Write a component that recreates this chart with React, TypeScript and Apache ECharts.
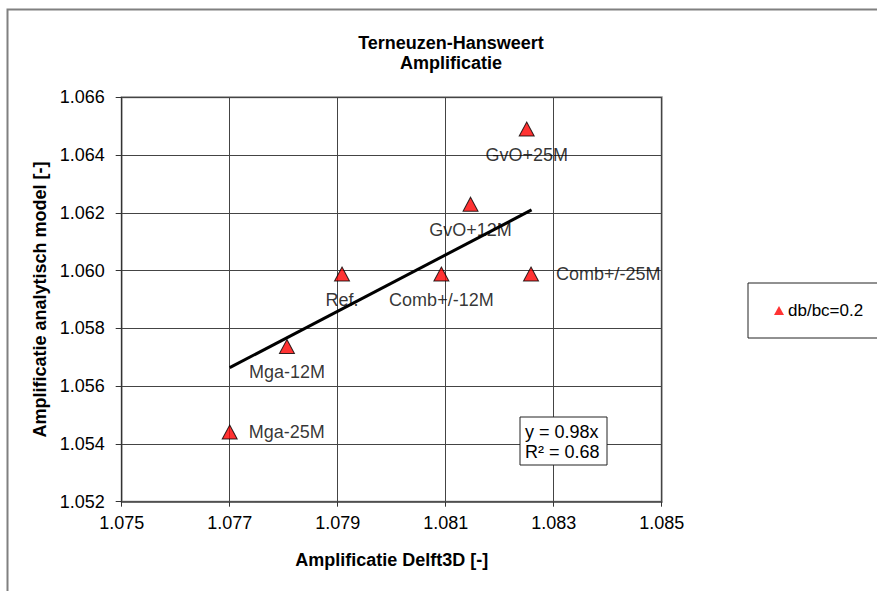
import React, { useEffect, useRef } from "react";
import * as echarts from "echarts";

const pointNames = ["Mga-25M", "Mga-12M", "Ref.", "Comb+/-12M", "Comb+/-25M", "GvO+12M", "GvO+25M"];
const delft3dValues = [1.077, 1.07806, 1.07908, 1.08092, 1.08258, 1.08146, 1.0825];
const analytischValues = [1.05441, 1.05737, 1.05988, 1.05988, 1.05988, 1.0623, 1.0649];
const trendX = [1.077, 1.08259];
const trendY = [1.05664, 1.0621];
const seriesName = "db/bc=0.2";
const titleLines = ["Terneuzen-Hansweert", "Amplificatie"];
const equationLines = ["y = 0.98x", "R² = 0.68"];

const FONT = "'Liberation Sans', Arial, sans-serif";

const rightLabelDistance: Record<string, number> = { "Mga-25M": 11, "Comb+/-25M": 17 };

export default function App() {
  const ref = useRef<HTMLDivElement>(null);
  useEffect(() => {
    if (!ref.current) return;
    const chart = echarts.init(ref.current, undefined, { renderer: "svg" });
    const scatterData = pointNames.map((n, i) => {
      const right = rightLabelDistance[n] !== undefined;
      return {
        name: n,
        value: [delft3dValues[i], analytischValues[i]],
        label: right
          ? { position: "right", distance: rightLabelDistance[n] }
          : { position: "bottom", distance: 9 },
      };
    });
    chart.setOption({
      animation: false,
      backgroundColor: "#ffffff",
      textStyle: { fontFamily: FONT },
      grid: {
        left: 121.7,
        right: 877 - 661.7,
        top: 97.3,
        bottom: 591 - 501.7,
        show: true,
        borderColor: "#8c8c8c",
        borderWidth: 2,
        backgroundColor: "transparent",
      },
      legend: {
        data: [{ name: seriesName, icon: "triangle", itemStyle: { color: "#ff0000", borderWidth: 0 } }],
        left: 748,
        top: 283,
        orient: "vertical",
        padding: [19, 60, 19, 26],
        borderColor: "#222",
        borderWidth: 1,
        itemWidth: 10,
        itemHeight: 9,
        itemGap: 0,
        textStyle: { fontSize: 17, color: "#000", fontFamily: FONT, padding: [0, 0, 0, -1] },
      },
      xAxis: {
        type: "value",
        min: 1.075,
        max: 1.085,
        interval: 0.002,
        name: "Amplificatie Delft3D [-]",
        nameLocation: "middle",
        nameGap: 49,
        nameTextStyle: { fontSize: 18, fontWeight: "bold", color: "#000", fontFamily: FONT },
        axisLine: { show: true, lineStyle: { color: "#555", width: 1.5 } },
        axisTick: { show: true, length: 5, lineStyle: { color: "#333" } },
        axisLabel: { fontSize: 18, color: "#000", margin: 12, fontFamily: FONT, formatter: (v: number) => v.toFixed(3) },
        splitLine: { show: true, lineStyle: { color: "#444", width: 1 } },
      },
      yAxis: {
        type: "value",
        min: 1.052,
        max: 1.066,
        interval: 0.002,
        name: "Amplificatie analytisch model [-]",
        nameLocation: "middle",
        nameGap: 57,
        nameTextStyle: { fontSize: 18, fontWeight: "bold", color: "#000", fontFamily: FONT },
        axisLine: { show: true, lineStyle: { color: "#333", width: 1 } },
        axisTick: { show: true, length: 6, lineStyle: { color: "#333" } },
        axisLabel: { fontSize: 18, color: "#000", margin: 17, fontFamily: FONT, formatter: (v: number) => v.toFixed(3) },
        splitLine: { show: true, lineStyle: { color: "#444", width: 1 } },
      },
      series: [
        {
          name: "trend",
          type: "line",
          data: trendX.map((x, i) => [x, trendY[i]]),
          symbol: "none",
          lineStyle: { color: "#000", width: 3 },
          silent: true,
          z: 3,
        },
        {
          name: seriesName,
          type: "scatter",
          symbol: "triangle",
          symbolSize: [15, 14],
          itemStyle: { color: "#ff0000", borderColor: "#000", borderWidth: 1 },
          label: { show: true, formatter: "{b}", fontSize: 18, color: "#000", fontFamily: FONT },
          data: scatterData,
          z: 4,
        },
      ],
      graphic: [
        {
          type: "rect",
          shape: { x: 7.5, y: 9.5, width: 900, height: 600 },
          style: { fill: "none", stroke: "#808080", lineWidth: 2 },
          silent: true,
        },
        {
          type: "text",
          x: 451,
          y: 43,
          style: { text: titleLines[0], font: `bold 18px ${FONT}`, fill: "#000", textAlign: "center", textVerticalAlign: "middle" },
        },
        {
          type: "text",
          x: 451,
          y: 63,
          style: { text: titleLines[1], font: `bold 18px ${FONT}`, fill: "#000", textAlign: "center", textVerticalAlign: "middle" },
        },
        {
          type: "rect",
          shape: { x: 520, y: 417, width: 87, height: 48 },
          style: { fill: "#fff", stroke: "#222", lineWidth: 1 },
          z: 10,
        },
        {
          type: "text",
          x: 525,
          y: 431.5,
          z: 11,
          style: { text: equationLines[0], font: `18px ${FONT}`, fill: "#000", textAlign: "left", textVerticalAlign: "middle" },
        },
        {
          type: "text",
          x: 525,
          y: 452,
          z: 11,
          style: { text: equationLines[1], font: `18px ${FONT}`, fill: "#000", textAlign: "left", textVerticalAlign: "middle" },
        },
      ],
    });
    return () => chart.dispose();
  }, []);
  return <div ref={ref} style={{ position: "absolute", left: 0, top: 0, width: 877, height: 591 }} />;
}
